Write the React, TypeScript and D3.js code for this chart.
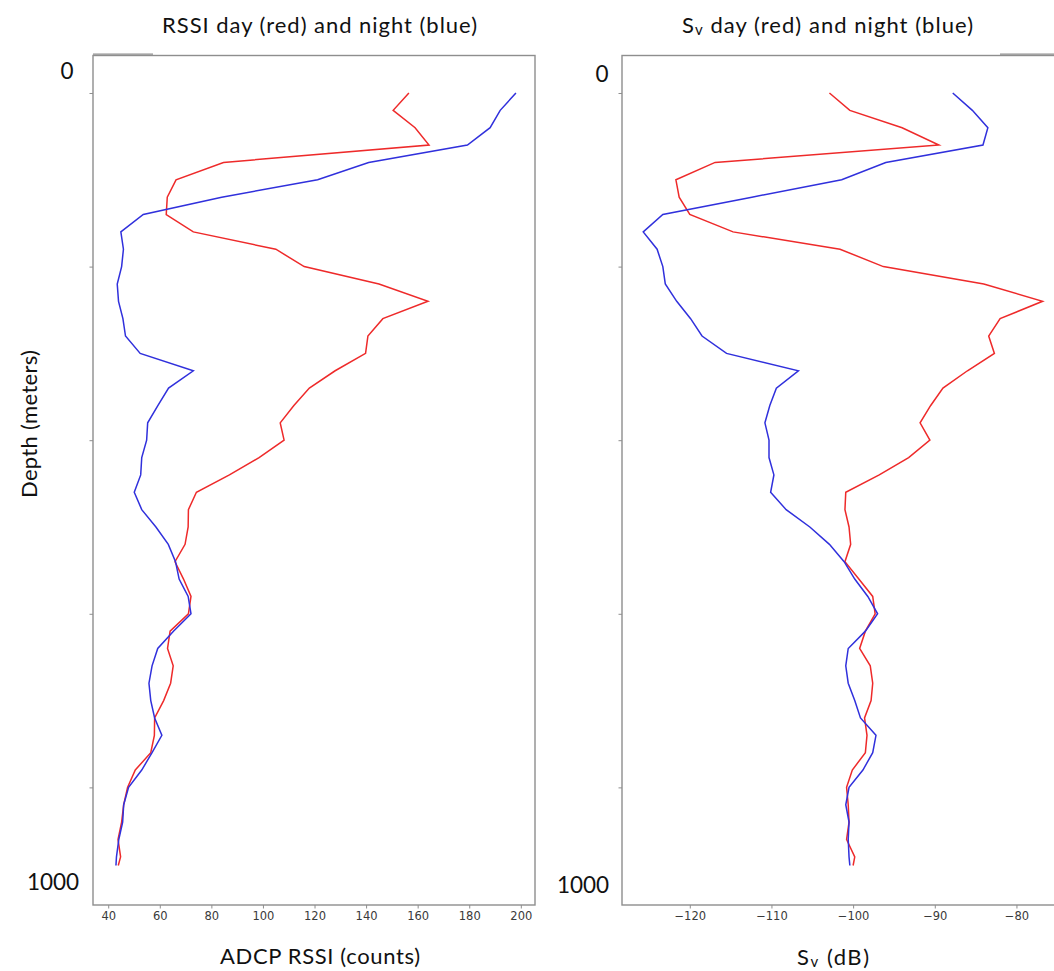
import * as d3 from 'd3';
import { useEffect, useRef } from 'react';

// depth bins (meters)
const depth = [
  0, 20, 40, 60, 80, 100, 120, 140, 160, 180, 200, 220, 240, 260, 280, 300,
  320, 340, 360, 380, 400, 420, 440, 460, 480, 500, 520, 540, 560, 580, 600,
  620, 640, 660, 680, 700, 720, 740, 760, 780, 800, 820, 840, 860, 880, 890,
];

// ADCP RSSI (counts)
const rssiDay = [
  156.6, 150.5, 159.0, 164.4, 84.7, 66.3, 62.9, 62.5, 73.0, 105.0, 116.0, 145.0,
  164.0, 146.5, 140.7, 139.8, 128.0, 118.0, 112.0, 106.7, 108.2, 98.5, 87.0,
  74.2, 71.1, 71.0, 69.8, 65.9, 69.2, 72.1, 71.1, 64.0, 63.0, 65.2, 64.2, 61.5,
  58.0, 57.9, 56.5, 50.5, 47.5, 46.0, 45.2, 43.8, 44.8, 43.9,
];
const rssiNight = [
  198.1, 192.0, 188.1, 179.3, 141.0, 121.2, 84.0, 53.6, 44.9, 45.9, 45.2, 43.5,
  44.0, 45.7, 46.7, 52.4, 73.0, 63.4, 59.3, 55.3, 54.9, 53.0, 52.6, 50.1, 53.0,
  58.5, 63.3, 66.1, 67.5, 71.0, 72.1, 65.3, 59.2, 57.0, 55.8, 56.5, 58.0, 60.8,
  57.0, 53.0, 47.9, 46.0, 45.6, 44.1, 43.2, 43.0,
];

// Sv (dB)
const svDay = [
  -102.9, -100.4, -94.0, -89.5, -116.9, -121.7, -121.3, -120.0, -114.7, -101.6,
  -96.3, -84.0, -76.8, -82.0, -83.4, -82.7, -86.0, -89.0, -90.5, -91.8, -90.6,
  -93.2, -96.8, -100.9, -101.0, -100.5, -100.3, -101.0, -99.3, -97.6, -97.3,
  -98.5, -99.2, -97.9, -97.6, -97.8, -98.6, -98.3, -98.5, -100.1, -100.8,
  -100.6, -100.5, -100.8, -99.8, -100.0,
];
const svNight = [
  -87.8, -85.4, -83.5, -84.1, -96.0, -101.4, -112.4, -123.3, -125.7, -124.0,
  -123.3, -123.0, -121.6, -119.9, -118.5, -115.5, -106.7, -109.4, -110.2,
  -110.8, -110.3, -110.3, -109.7, -110.1, -108.2, -105.3, -102.9, -101.1,
  -99.8, -98.2, -97.0, -98.5, -100.6, -100.9, -100.6, -99.8, -99.1, -97.2,
  -97.6, -98.8, -100.5, -100.9, -100.5, -100.6, -100.5, -100.4,
];

const rssiTicks = [40, 60, 80, 100, 120, 140, 160, 180, 200];
const svTicks = [-120, -110, -100, -90, -80];
const depthTicks = [0, 200, 400, 600, 800];

const W = 1054;
const H = 971;
const top = 55.5;
const bottom = 905;
const labelFont = 'Lato, "Noto Sans", sans-serif';
const tickFont = '"DejaVu Sans", sans-serif';
const red = '#ee2a2a';
const blue = '#3030dc';
const spine = '#8e8e8e';

const yScale = d3.scaleLinear().domain([-43.2, 935.5]).range([top, bottom]);

const panels = [
  {
    key: 'rssi',
    left: 93,
    right: 535,
    domain: [34.1, 205.5],
    ticks: rssiTicks,
    day: rssiDay,
    night: rssiNight,
  },
  {
    key: 'sv',
    left: 622,
    right: 1063,
    domain: [-128.3, -74.3],
    ticks: svTicks,
    day: svDay,
    night: svNight,
  },
];

const Panel = ({ p }) => {
  const xRef = useRef(null);
  const yRef = useRef(null);
  const x = d3.scaleLinear().domain(p.domain).range([p.left, p.right]);
  const line = d3
    .line()
    .x((d) => x(d[0]))
    .y((d) => yScale(d[1]));

  useEffect(() => {
    const gx = d3.select(xRef.current);
    gx.selectAll('*').remove();
    gx.call(
      d3
        .axisBottom(x)
        .tickValues(p.ticks)
        .tickSize(3.5)
        .tickPadding(3)
        .tickFormat(d3.format('d'))
    );
    gx.select('.domain').remove();
    gx.selectAll('line').attr('stroke', spine).attr('stroke-width', 1);
    gx.selectAll('text')
      .attr('fill', '#3a3a3a')
      .style('font-family', tickFont)
      .style('font-size', '11.5px');

    const gy = d3.select(yRef.current);
    gy.selectAll('*').remove();
    gy.call(d3.axisLeft(yScale).tickValues(depthTicks).tickSize(3.5).tickFormat(() => ''));
    gy.select('.domain').remove();
    gy.selectAll('line').attr('stroke', spine).attr('stroke-width', 1);
  }, []);

  const dayPts = p.day.map((v, i) => [v, depth[i]]);
  const nightPts = p.night.map((v, i) => [v, depth[i]]);

  return (
    <g>
      <rect
        x={p.left}
        y={top}
        width={p.right - p.left}
        height={bottom - top}
        fill="none"
        stroke={spine}
        strokeWidth={1.4}
      />
      <g ref={xRef} transform={`translate(0,${bottom})`} />
      <g ref={yRef} transform={`translate(${p.left},0)`} />
      <path d={line(dayPts)} fill="none" stroke={red} strokeWidth={1.5} />
      <path d={line(nightPts)} fill="none" stroke={blue} strokeWidth={1.5} />
    </g>
  );
};

export default function App() {
  return (
    <svg
      width={W}
      height={H}
      style={{ position: 'absolute', left: 0, top: 0, background: '#fff' }}
    >
      <rect width={W} height={H} fill="#fff" />
      {panels.map((p) => (
        <Panel key={p.key} p={p} />
      ))}
      {/* small offset edges of the pasted frames */}
      <line x1={93} x2={153} y1={54.2} y2={54.2} stroke={spine} strokeWidth={1.2} />
      <line x1={1000} x2={1054} y1={54.2} y2={54.2} stroke={spine} strokeWidth={1.2} />

      <g fontFamily={labelFont} fill="#111">
        <text
          x={319.5}
          y={24}
          fontSize={22}
          textAnchor="middle"
          dominantBaseline="central"
          textLength={315}
          lengthAdjust="spacing"
        >
          RSSI day (red) and night (blue)
        </text>
        <text
          x={827.5}
          y={24}
          fontSize={22}
          textAnchor="middle"
          dominantBaseline="central"
          textLength={291}
          lengthAdjust="spacing"
        >
          S<tspan fontSize={15} dy={5}>v</tspan>
          <tspan dy={-5}> day (red) and night (blue)</tspan>
        </text>

        <text x={67} y={70} fontSize={22.5} textAnchor="middle" dominantBaseline="central">0</text>
        <text x={602} y={73} fontSize={22.5} textAnchor="middle" dominantBaseline="central">0</text>
        <text x={53} y={881} fontSize={22.5} textAnchor="middle" dominantBaseline="central">1000</text>
        <text x={583} y={884} fontSize={22.5} textAnchor="middle" dominantBaseline="central">1000</text>

        <text
          transform="translate(28,424) rotate(-90)"
          fontSize={22}
          textAnchor="middle"
          dominantBaseline="central"
          textLength={148}
          lengthAdjust="spacing"
        >
          Depth (meters)
        </text>

        <text
          x={320}
          y={955}
          fontSize={22}
          textAnchor="middle"
          dominantBaseline="central"
          textLength={200}
          lengthAdjust="spacing"
        >
          ADCP RSSI (counts)
        </text>
        <text
          x={833}
          y={956}
          fontSize={22}
          textAnchor="middle"
          dominantBaseline="central"
          textLength={72}
          lengthAdjust="spacing"
        >
          S<tspan fontSize={15} dy={5}>v</tspan>
          <tspan dy={-5}> (dB)</tspan>
        </text>
      </g>
    </svg>
  );
}
